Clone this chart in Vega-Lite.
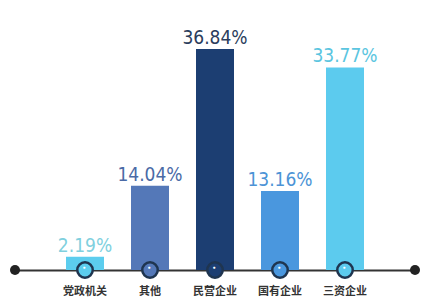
{
  "$schema": "https://vega.github.io/schema/vega-lite/v6.json",
  "width": 422,
  "height": 270,
  "autosize": {"type": "none"},
  "padding": {"left": 0, "right": 0, "top": 0, "bottom": 29},
  "background": "white",
  "config": {"view": {"stroke": null}},
  "datasets": {
    "bars": [
      {"name": "党政机关", "value": 2.19, "label": "2.19%"},
      {"name": "其他", "value": 14.04, "label": "14.04%"},
      {"name": "民营企业", "value": 36.84, "label": "36.84%"},
      {"name": "国有企业", "value": 13.16, "label": "13.16%"},
      {"name": "三资企业", "value": 33.77, "label": "33.77%"}
    ],
    "ends": [{"end": 0}, {"end": 1}]
  },
  "layer": [
    {
      "data": {"name": "bars"},
      "encoding": {
        "x": {
          "field": "name", "type": "nominal", "sort": null,
          "scale": {"range": [15, 415], "paddingInner": 0, "paddingOuter": 0.577},
          "axis": {"title": null, "domainColor": "#333333", "domainWidth": 2, "ticks": false, "labelAngle": 0, "labelPadding": 15, "labelFont": "Noto Sans CJK SC", "labelFontWeight": "bold", "labelFontSize": 11, "labelColor": "#333333"}
        }
      },
      "layer": [
        {
          "mark": {"type": "bar", "width": 38},
          "encoding": {
            "y": {"field": "value", "type": "quantitative", "scale": {"domain": [0, 44.2]}, "axis": null},
            "color": {
              "field": "name", "type": "nominal", "legend": null,
              "scale": {"domain": ["党政机关", "其他", "民营企业", "国有企业", "三资企业"], "range": ["#5ccdee", "#5478b8", "#1c3e72", "#4a97de", "#5ccbee"]}
            }
          }
        },
        {
          "mark": {"type": "text", "baseline": "bottom", "dy": -1, "font": "DejaVu Sans Condensed", "fontSize": 19},
          "encoding": {
            "y": {"field": "value", "type": "quantitative"},
            "text": {"field": "label"},
            "color": {
              "field": "name", "type": "nominal", "legend": null,
              "scale": {"domain": ["党政机关", "其他", "民营企业", "国有企业", "三资企业"], "range": ["#80d0de", "#4a6aa6", "#2b3d5c", "#4c93d6", "#5bc5e0"]}
            }
          }
        },
        {
          "mark": {"type": "point", "filled": true, "size": 240, "stroke": "#1f3550", "strokeWidth": 2.5, "opacity": 1},
          "encoding": {
            "y": {"datum": 0},
            "fill": {
              "field": "name", "type": "nominal", "legend": null,
              "scale": {"domain": ["党政机关", "其他", "民营企业", "国有企业", "三资企业"], "range": ["#5ccdee", "#5478b8", "#1c3e72", "#4a97de", "#5ccbee"]}
            }
          }
        },
        {
          "mark": {"type": "text", "text": "●", "fontSize": 5, "color": "white", "dy": -3, "dx": -1},
          "encoding": {"y": {"datum": 0}}
        }
      ],
      "resolve": {"scale": {"color": "independent"}}
    },
    {
      "data": {"name": "ends"},
      "mark": {"type": "point", "filled": true, "size": 100, "color": "#222222", "opacity": 1},
      "encoding": {
        "x": {"field": "end", "type": "quantitative", "scale": {"domain": [0, 1], "range": [15, 415]}, "axis": null},
        "y": {"datum": 0}
      }
    }
  ],
  "resolve": {"scale": {"x": "independent"}}
}
